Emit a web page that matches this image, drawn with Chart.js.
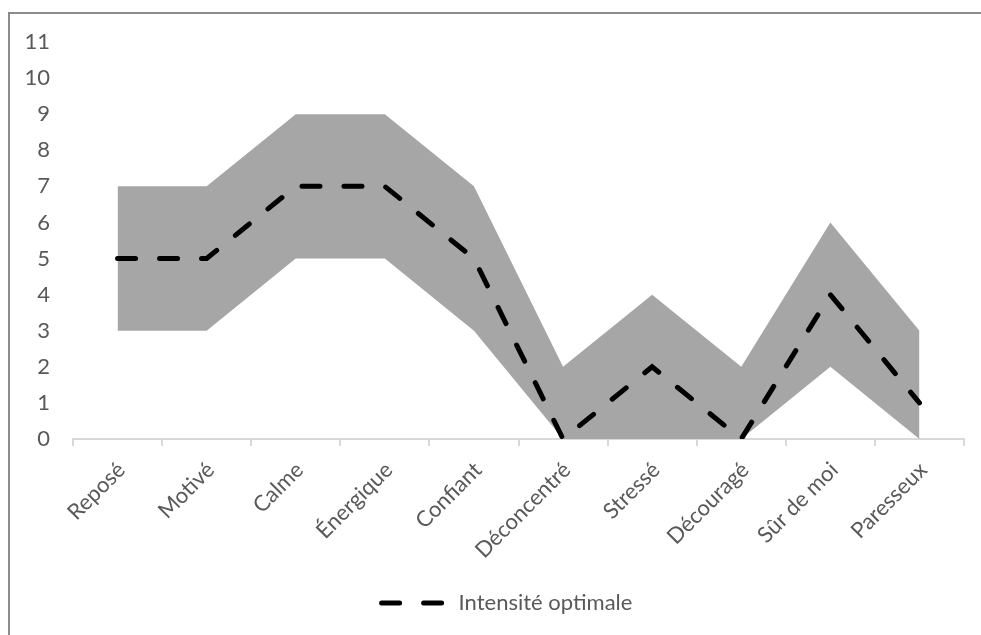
<!DOCTYPE html>
<html lang="fr">
<head>
<meta charset="utf-8">
<title>Intensité optimale</title>
<script src="https://cdn.jsdelivr.net/npm/chart.js@4.4.1/dist/chart.umd.min.js"></script>
<style>
  html, body { margin: 0; padding: 0; background: #fff; overflow: hidden; }
  #frame {
    position: absolute; left: 8px; top: 12px;
    width: 1000px; height: 700px;
    border: 2px solid #8c8c8c; box-sizing: border-box;
  }
  #wrap { position: absolute; left: 0; top: 0; width: 981px; height: 635px; }
</style>
</head>
<body>
<div id="frame"></div>
<div id="wrap"><canvas id="chart"></canvas></div>
<script>
// emotions on the x axis
const categories = ["Reposé", "Motivé", "Calme", "Énergique", "Confiant",
    "Déconcentré", "Stressé", "Découragé", "Sûr de moi", "Paresseux"];

// optimal intensity (dashed line) and the zone around it (grey band)
const optimal   = [5, 5, 7, 7, 5, 0, 2, 0, 4, 1];
const zoneLow   = [3, 3, 5, 5, 3, 0, 0, 0, 2, 0];
const zoneHigh  = [7, 7, 9, 9, 7, 2, 4, 2, 6, 3];

const yMin = 0;
const yMax = 11;

const textColor = "#595959";
const axisColor = "#d9d9d9";
const bandColor = "#a6a6a6";
const fontFamily = "Lato, 'Open Sans', sans-serif";
const fontSize = 22;

const lineDash = [18, 24];

// legend row is centred a bit right of the canvas middle
const legendShift = {
    id: "legendShift",
    afterLayout(chart) {
        const lg = chart.legend;
        if (!lg) return;
        lg.left = 50;
        lg.right = 964;
    },
};

const ctx = document.getElementById("chart");

new Chart(ctx, {
    type: "line",
    data: {
        labels: categories,
        datasets: [
            {
                label: "Intensité optimale",
                data: optimal,
                borderColor: "#000",
                backgroundColor: "#000",
                borderWidth: 5,
                borderDash: lineDash,
                borderCapStyle: "round",
                fill: false,
                pointRadius: 0,
                tension: 0,
            },
            {
                label: "min",
                data: zoneLow,
                borderWidth: 0,
                borderColor: "rgba(0,0,0,0)",
                fill: false,
                pointRadius: 0,
                tension: 0,
            },
            {
                label: "max",
                data: zoneHigh,
                borderWidth: 0,
                borderColor: "rgba(0,0,0,0)",
                backgroundColor: bandColor,
                fill: "-1",
                pointRadius: 0,
                tension: 0,
            },
        ],
    },
    plugins: [legendShift],
    options: {
        responsive: true,
        maintainAspectRatio: false,
        animation: false,
        layout: {
            padding: { left: 0, top: 42, right: 17, bottom: 11 },
        },
        plugins: {
            tooltip: { enabled: false },
            legend: {
                position: "bottom",
                labels: {
                    usePointStyle: true,
                    pointStyleWidth: 66,
                    color: textColor,
                    font: { family: fontFamily, size: fontSize },
                    // only the dashed line goes in the legend, two dashes long
                    generateLabels: (chart) => [{
                        text: chart.data.datasets[0].label,
                        datasetIndex: 0,
                        hidden: false,
                        pointStyle: "line",
                        strokeStyle: "#000",
                        fillStyle: "#000",
                        lineWidth: 5,
                        lineCap: "round",
                        lineDash: [18, 24, 18, 100],
                        fontColor: textColor,
                    }],
                },
            },
        },
        scales: {
            x: {
                offset: true,
                grid: {
                    offset: true,
                    drawOnChartArea: false,
                    drawTicks: true,
                    tickLength: 7,
                    color: axisColor,
                    lineWidth: 2,
                },
                border: { display: true, color: axisColor, width: 2 },
                ticks: {
                    autoSkip: false,
                    minRotation: 45,
                    maxRotation: 45,
                    padding: 11,
                    labelOffset: 4,
                    color: textColor,
                    font: { family: fontFamily, size: fontSize },
                },
                afterFit: (scale) => {
                    const legend = scale.chart.legend;
                    const lh = legend ? legend.height : 0;
                    scale.height = 635 - 439 - lh - 11;
                },
            },
            y: {
                min: yMin,
                max: yMax,
                grid: { display: false, drawTicks: false },
                border: { display: false },
                ticks: {
                    stepSize: 1,
                    padding: 23,
                    color: textColor,
                    font: { family: fontFamily, size: fontSize },
                },
                afterFit: (scale) => {
                    scale.width = 73;
                },
            },
        },
    },
});
</script>
</body>
</html>
